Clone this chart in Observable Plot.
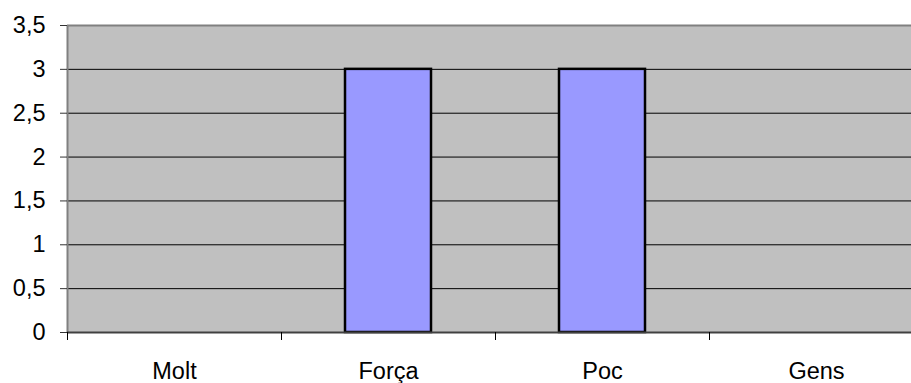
<!DOCTYPE html>
<html>
<head>
<meta charset="utf-8">
<script src="https://cdn.jsdelivr.net/npm/d3@7"></script>
<script src="https://cdn.jsdelivr.net/npm/@observablehq/plot@0.6"></script>
<style>
  html, body { margin: 0; padding: 0; background: #fff; }
  #chart svg { display: block; overflow: hidden; }
</style>
</head>
<body>
<div id="chart"></div>
<script>
const categories = ["Molt", "Força", "Poc", "Gens"];
const values = [0, 3, 3, 0];
const yTicks = [0, 0.5, 1, 1.5, 2, 2.5, 3, 3.5];
const gridValues = [0.5, 1, 1.5, 2, 2.5, 3];

const data = categories.map((c, i) => ({ category: c, value: values[i] }));

const W = 911, H = 383;
const left = 67, right = 923; // plot area runs past the right edge of the picture
const step = (right - left) / categories.length;

const chart = Plot.plot({
  width: W,
  height: H,
  marginTop: 25,
  marginBottom: 51,
  marginLeft: left,
  marginRight: W - right,
  style: { fontFamily: "Liberation Sans, Arial, sans-serif", fontSize: "23px", color: "#000", background: "#fff" },
  x: { domain: categories, range: [left, right], paddingInner: 0.6, paddingOuter: 0.3, align: 0.5, label: null },
  y: { domain: [0, 3.5], label: null },
  marks: [
    Plot.frame({ fill: "#c0c0c0", stroke: null }),
    Plot.ruleY(gridValues, { stroke: "#000", strokeWidth: 1 }),
    Plot.ruleY([3.5], { stroke: "#808080", strokeWidth: 2 }),
    Plot.ruleX([categories[0]], { dx: -step / 2, stroke: "#808080", strokeWidth: 2 }),
    Plot.barY(data, {
      x: "category",
      y: "value",
      filter: d => d.value > 0,
      fill: "#9999ff",
      stroke: "#000",
      strokeWidth: 2.5
    }),
    Plot.ruleY([0], { stroke: "#404040", strokeWidth: 2 }),
    Plot.ruleX(categories, { dx: -step / 2, y1: 0, y2: 0, insetBottom: -8, stroke: "#000", strokeWidth: 1 }),
    Plot.axisY(yTicks, {
      tickSize: 7,
      tickPadding: 15,
      stroke: "#333",
      tickFormat: d => String(d).replace(".", ","),
      fontSize: 23.5
    }),
    Plot.axisX({ tickSize: 0, tickPadding: 30, fontSize: 23.5 })
  ]
});
document.getElementById("chart").appendChild(chart);
</script>
</body>
</html>
